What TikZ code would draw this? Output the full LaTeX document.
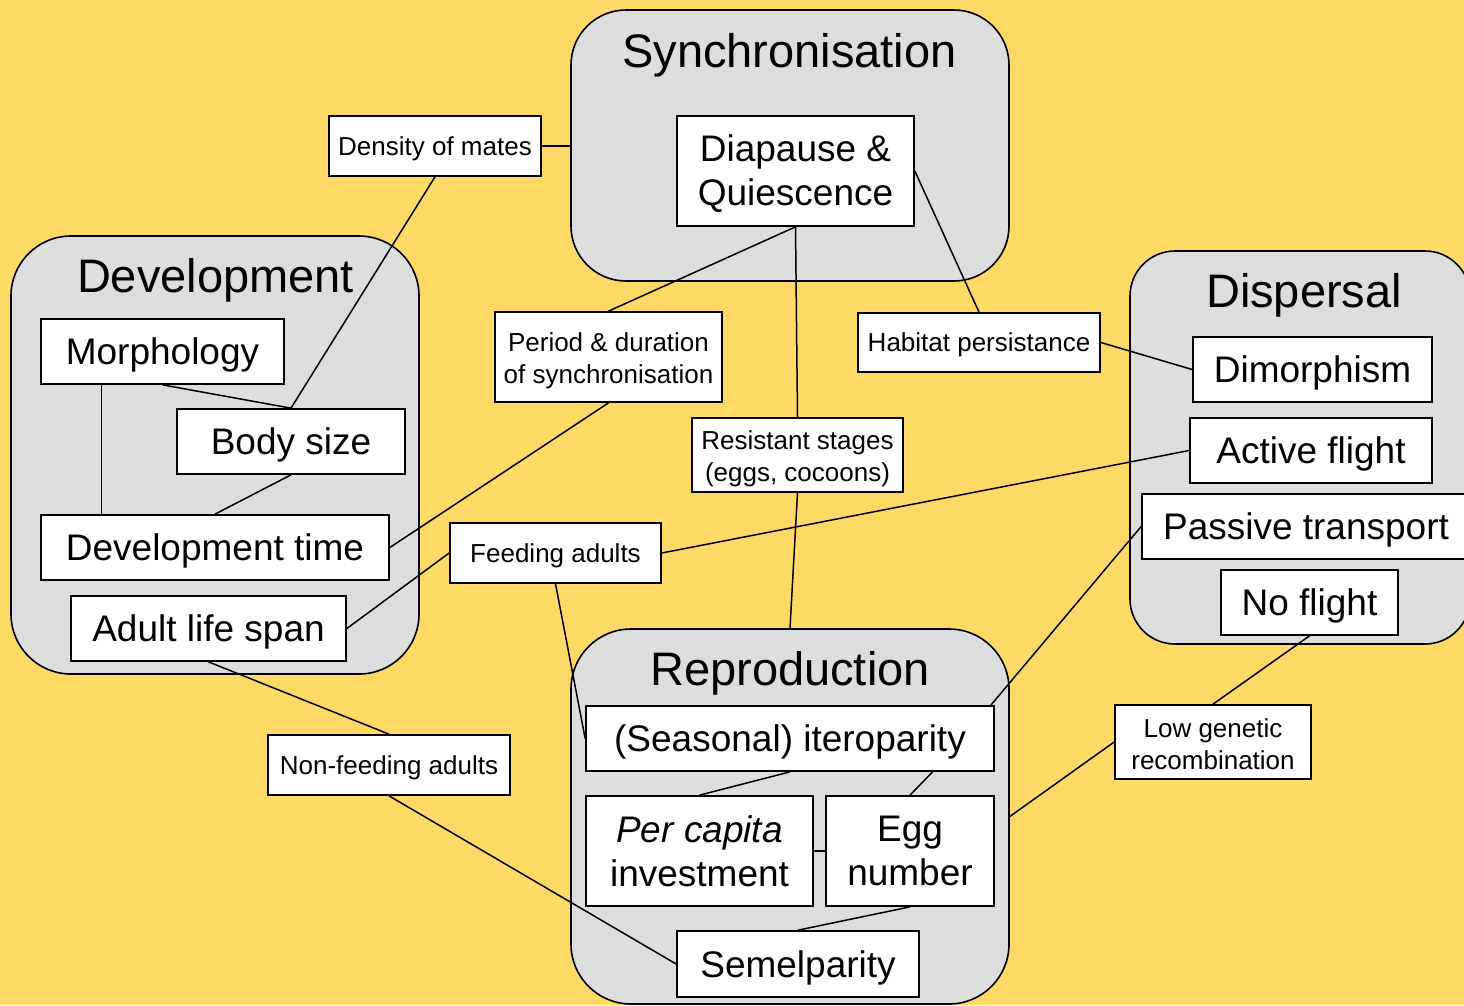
\documentclass[tikz,border=0pt]{standalone}
\usepackage{fontspec}
\setmainfont{Liberation Sans}
\usetikzlibrary{calc}
\definecolor{bgyellow}{HTML}{FFD966}
\definecolor{grpgray}{HTML}{DDDDDD}
\begin{document}
\begin{tikzpicture}[x=1pt,y=-1pt,
  grp/.style={draw=black, line width=1.6pt, fill=grpgray, rounded corners=55pt, inner sep=0pt},
  grptitle/.style={anchor=base, inner sep=0pt, font=\fontsize{47}{52}\selectfont},
  bigbox/.style={draw=black, fill=white, line width=1.7pt, inner sep=0pt, align=center,
    font=\fontsize{37}{44}\selectfont},
  bigone/.style={bigbox, text height=26.5pt, text depth=0pt},
  smallbox/.style={draw=black, fill=white, line width=1.7pt, inner sep=0pt, align=center,
    font=\fontsize{26}{32}\selectfont},
  smallone/.style={smallbox, text height=18.6pt, text depth=0pt},
  link/.style={draw=black, line width=1.5pt}
]
\useasboundingbox[fill=bgyellow] (0,0) rectangle (1464,1005);
\clip (0,0) rectangle (1464,1005);

% group boxes
\node[grp, minimum width=438pt, minimum height=271pt] (sync) at (790,145.5) {};
\node[grp, minimum width=408pt, minimum height=438pt, rounded corners=60pt] (dev) at (215,455) {};
\node[grp, minimum width=340pt, minimum height=393pt, rounded corners=45pt] (disp) at (1300,447.5) {};
\node[grp, minimum width=438pt, minimum height=375pt, rounded corners=60pt] (repro) at (790,816.5) {};

\node[grptitle] (synct) at (789.5,67) {Synchronisation};
\node[grptitle] (devt0) at (215.5,292) {Development};
\node[grptitle] (dispt) at (1304,307) {Dispersal};
\node[grptitle] (reprot) at (790,685) {Reproduction};

% white boxes
\node[bigbox, minimum width=237pt, minimum height=110pt] (diap) at (795.5,171) {\rule{0pt}{31pt}Diapause \&\\Quiescence};
\node[smallone, minimum width=212pt, minimum height=60pt] (dens) at (435,146) {Density of mates};
\node[bigone, minimum width=243pt, minimum height=65pt] (morph) at (162.5,351.5) {Morphology};
\node[bigone, minimum width=228pt, minimum height=65pt] (body) at (291,441.5) {Body size};
\node[bigone, minimum width=348pt, minimum height=65pt] (devtime) at (215,547.5) {Development time};
\node[bigone, minimum width=275pt, minimum height=65pt] (adult) at (208.5,628.5) {Adult life span};
\node[smallbox, minimum width=227pt, minimum height=90pt] (period) at (608.5,357) {\rule{0pt}{27pt}Period \& duration\\of synchronisation};
\node[smallone, minimum width=242pt, minimum height=59pt] (habitat) at (979,342.5) {Habitat persistance};
\node[smallbox, minimum width=211pt, minimum height=74pt] (resist) at (797.5,455) {\rule{0pt}{27pt}Resistant stages\\(eggs, cocoons)};
\node[smallone, minimum width=211pt, minimum height=60pt] (feed) at (555.5,553) {Feeding adults};
\node[bigone, minimum width=239pt, minimum height=65pt] (dimor) at (1312.5,369.5) {Dimorphism};
\node[bigone, minimum width=242pt, minimum height=65pt] (active) at (1311,450.5) {Active flight};
\node[bigone, minimum width=328pt, minimum height=65pt] (passive) at (1306,526.5) {Passive transport};
\node[bigone, minimum width=177pt, minimum height=65pt] (noflight) at (1309.5,602.5) {No flight};
\node[smallbox, minimum width=196pt, minimum height=74pt] (lowgen) at (1213,742) {\rule{0pt}{23pt}Low genetic\\recombination};
\node[smallone, minimum width=242pt, minimum height=60pt] (nonfeed) at (389,765) {Non-feeding adults};
\node[bigone, minimum width=408pt, minimum height=65pt] (itero) at (790,738.5) {(Seasonal) iteroparity};
\node[bigbox, minimum width=227pt, minimum height=110pt] (percap) at (699.5,851) {\textit{Per capita}\\investment};
\node[bigbox, minimum width=168pt, minimum height=110pt] (egg) at (910,851) {Egg\\number};
\node[bigone, minimum width=242pt, minimum height=66pt] (semel) at (798,964) {Semelparity};

% connectors
\coordinate (m1) at ($(morph.south west)!0.25!(morph.south east)$);
\coordinate (i1) at ($(itero.south west)!0.848!(itero.south east)$);
\coordinate (i2) at ($(itero.north east)+(-4,0)$);
\draw[link] (dens.east) -- (dens.east -| sync.west);
\draw[link] (dens.south) -- (body.north);
\draw[link] (morph.south) -- (body.north);
\draw[link] (m1) -- (m1 |- devtime.north);
\draw[link] (body.south) -- (devtime.north);
\draw[link] (devtime.east) -- (period.south);
\draw[link] (period.north) -- (diap.south);
\draw[link] (diap.south) -- (resist.north);
\draw[link] (resist.south) -- (repro.north);
\draw[link] (diap.east) -- (habitat.north);
\draw[link] (habitat.east) -- (dimor.west);
\draw[link] (adult.east) -- (feed.west);
\draw[link] (feed.east) -- (active.west);
\draw[link] (feed.south) -- (itero.west);
\draw[link] (adult.south) -- (nonfeed.north);
\draw[link] (nonfeed.south) -- (semel.west);
\draw[link] (passive.west) -- (i2);
\draw[link] (noflight.south) -- (lowgen.north);
\draw[link] (lowgen.west) -- (repro.east);
\draw[link] (itero.south) -- (percap.north);
\draw[link] (i1) -- (egg.north);
\draw[link] (percap.east) -- (egg.west);
\draw[link] (egg.south) -- (semel.north);
\end{tikzpicture}
\end{document}
